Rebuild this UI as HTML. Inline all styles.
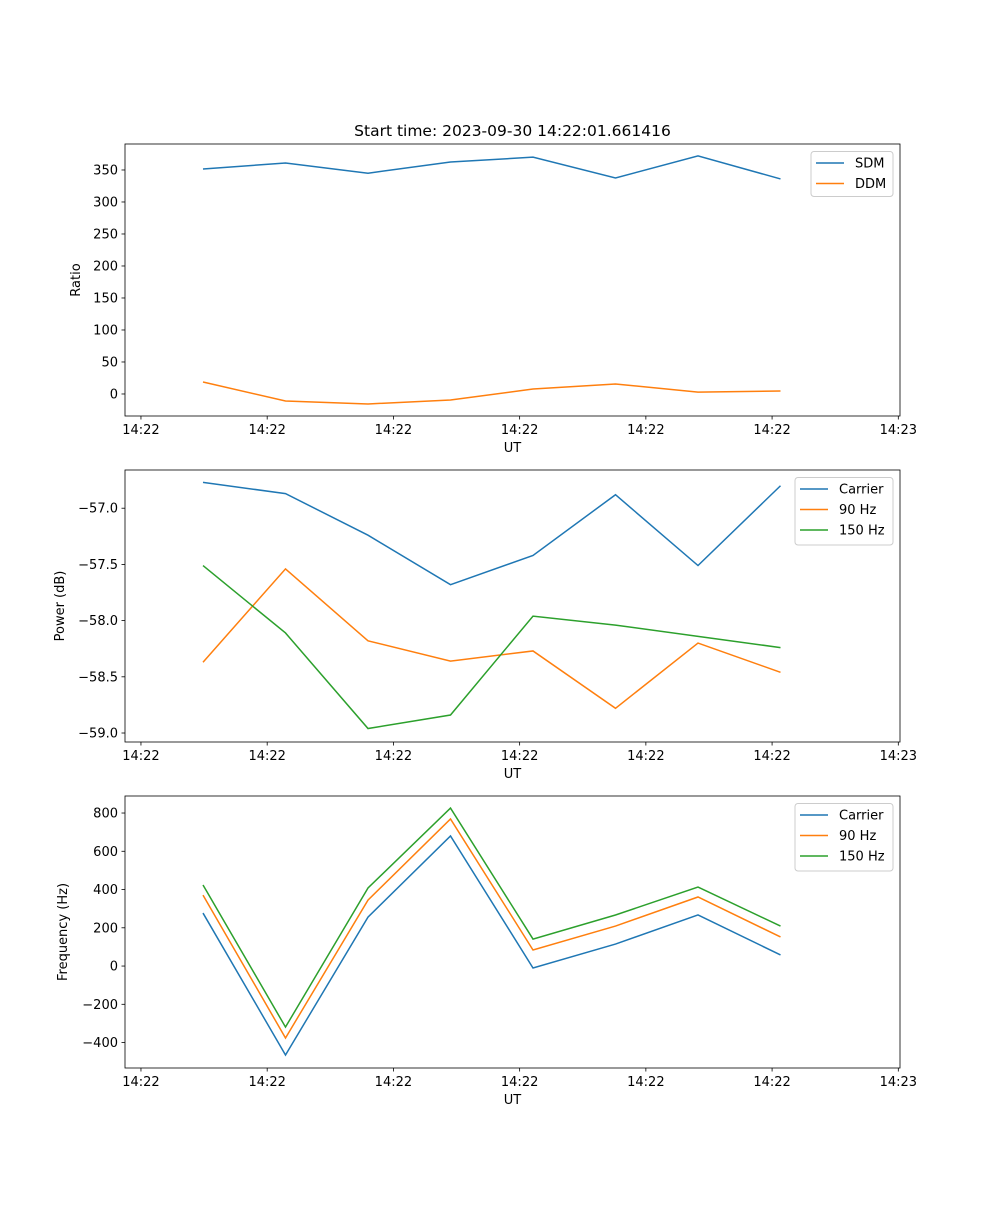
<!DOCTYPE html>
<html><head><meta charset="utf-8"><style>
html,body{margin:0;padding:0;background:#fff;}
svg text{font-family:"DejaVu Sans","Liberation Sans",sans-serif;fill:#000;}
</style></head><body>
<svg id="fig" width="1000" height="1200" xmlns="http://www.w3.org/2000/svg"></svg>
<script>
const xTickLabels = ["14:22","14:22","14:22","14:22","14:22","14:22","14:23"];
const xTickIdx = [-0.752,0.778,2.308,3.838,5.368,6.898,8.428];
const sdm = [351.6,360.9,345,362.5,370,337.5,372,336];
const ddm = [18.7,-11,-15.6,-9.4,7.8,15.6,3,4.7];
const pwrCarrier = [-56.77,-56.87,-57.24,-57.68,-57.42,-56.88,-57.51,-56.80];
const pwr90 = [-58.37,-57.54,-58.18,-58.36,-58.27,-58.78,-58.20,-58.46];
const pwr150 = [-57.51,-58.11,-58.96,-58.84,-57.96,-58.04,-58.14,-58.24];
const frqCarrier = [277,-465,256,680,-10,115,267,58];
const frq90 = [371,-376,345,769,84,209,361,152];
const frq150 = [424,-319,408,826,141,267,413,209];
const ticks1 = [0,50,100,150,200,250,300,350];
const ticks2 = [-57.0,-57.5,-58.0,-58.5,-59.0];
const ticks3 = [-400,-200,0,200,400,600,800];

const svg = document.getElementById('fig');
const NS = "http://www.w3.org/2000/svg";
function mk(tag, attrs, parent){const e=document.createElementNS(NS,tag);for(const k in attrs)e.setAttribute(k,attrs[k]);(parent||svg).appendChild(e);return e;}
const L=125,R=900;
function x(i){return 203+82.5*i;}
const C=["#1f77b4","#ff7f0e","#2ca02c"];

function panel(name, top, bot, ymin, ymax, ticks, fmt, ylabel, series, names, legend, title){
  const g=mk('g',{});
  
  
  const y=v=>bot-(v-ymin)/(ymax-ymin)*(bot-top);
  series.forEach((s,k)=>{
    const p=mk('polyline',{points:s.map((v,i)=>x(i)+','+y(v)).join(' '),fill:'none',stroke:C[k],'stroke-width':1.5},g);
    
    
  });
  const f=mk('rect',{x:L,y:top,width:R-L,height:bot-top,fill:'none',stroke:'#000','stroke-width':0.8},g);
  
  
  ticks.forEach(t=>{
    const yy=y(t);
    mk('line',{x1:L-3.5,x2:L,y1:yy,y2:yy,stroke:'#000','stroke-width':0.8},g);
    const tx=mk('text',{x:L-7,y:yy+4.5,'text-anchor':'end','font-size':13},g);
    tx.textContent=fmt(t);
    
    
  });
  xTickIdx.forEach((t,j)=>{
    const xx=x(t);
    mk('line',{x1:xx,x2:xx,y1:bot,y2:bot+3.5,stroke:'#000','stroke-width':0.8},g);
    const tx=mk('text',{x:xx,y:bot+18,'text-anchor':'middle','font-size':13},g);
    tx.textContent=xTickLabels[j];
    
    
  });
  const xl=mk('text',{x:(L+R)/2,y:bot+36,'text-anchor':'middle','font-size':13},g);
  xl.textContent='UT';
  
  
  const yl=mk('text',{x:0,y:0,'text-anchor':'middle','font-size':13,transform:`translate(${legend.yx},${(top+bot)/2}) rotate(-90)`},g);
  yl.textContent=ylabel;
  
  
  if(title){
    const tt=mk('text',{x:(L+R)/2,y:top-8,'text-anchor':'middle','font-size':15.5},g);
    tt.textContent=title;
    
    
  }
  const lg=mk('g',{},g);
  
  
  mk('rect',{x:legend.x,y:top+7.5,width:R-7-legend.x,height:22.5*names.length,rx:3,fill:'#fff',stroke:'#ccc','stroke-width':1},lg);
  names.forEach((n,k)=>{
    const yy=top+19+20.5*k;
    mk('line',{x1:legend.x+5,x2:legend.x+33,y1:yy,y2:yy,stroke:C[k],'stroke-width':1.5},lg);
    const tx=mk('text',{x:legend.x+44,y:yy+4.5,'font-size':13},lg);
    tx.textContent=n;
    
    
  });
}
panel('ratio',144,416,-34.4,390.6,ticks1,v=>String(v),'Ratio',[sdm,ddm],['SDM','DDM'],{x:811,yx:80},'Start time: 2023-09-30 14:22:01.661416');
panel('power',470,742,-59.08,-56.66,ticks2,v=>(v<0?'\u2212':'')+Math.abs(v).toFixed(1),'Power (dB)',[pwrCarrier,pwr90,pwr150],['Carrier','90 Hz','150 Hz'],{x:795,yx:64});
panel('frequency',796,1068,-533,889,ticks3,v=>(v<0?'\u2212':'')+Math.abs(v),'Frequency (Hz)',[frqCarrier,frq90,frq150],['Carrier','90 Hz','150 Hz'],{x:795,yx:67});
</script>
</body></html>
